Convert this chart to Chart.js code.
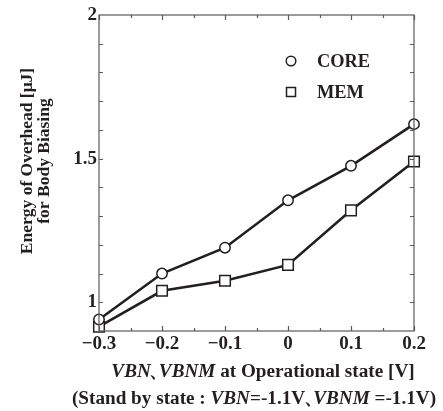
<!DOCTYPE html>
<html>
<head>
<meta charset="utf-8">
<script src="https://cdn.jsdelivr.net/npm/chart.js@4/dist/chart.umd.min.js"></script>
<style>
  html, body { margin: 0; padding: 0; background: #fff; }
  #wrap { width: 443px; height: 411px; }
</style>
</head>
<body>
<div id="wrap"><canvas id="chart" width="443" height="411"></canvas></div>
<script>
const voltages = [-0.3, -0.2, -0.1, 0, 0.1, 0.2]
const coreEnergy = [0.94, 1.10, 1.19, 1.355, 1.475, 1.62]
const memEnergy = [0.915, 1.04, 1.075, 1.13, 1.32, 1.49]

const xTicks = [-0.3, -0.2, -0.1, 0, 0.1, 0.2]
const yTicks = [1, 1.5, 2]

const ink = "#231f20"
const frame = "#5a5a5a"
const serif = "'Liberation Serif', 'Times New Roman', serif"

const toPoints = (ys) => voltages.map((v, i) => ({ x: v, y: ys[i] }))

// the ideographic comma gets a narrow advance so it sits tight like in print
const COMMA = "\u3001"

function partWidth(ctx, p, size) {
  ctx.font = (p[1] ? "italic " : "") + "bold " + size + "px " + serif
  return p[0] === COMMA ? size * 0.42 : ctx.measureText(p[0]).width
}

// writes one line made of plain and italic pieces, centred on cx
function richLine(ctx, parts, cx, y, size) {
  let total = 0
  parts.forEach(p => { total += partWidth(ctx, p, size) })
  let x = cx - total / 2
  parts.forEach(p => {
    const w = partWidth(ctx, p, size)
    ctx.fillText(p[0], p[0] === COMMA ? x - size * 0.08 : x, y)
    x += w
  })
}

const frameAndTicks = {
  id: "frameAndTicks",
  afterDraw(chart) {
    const { ctx, chartArea: a, scales } = chart
    const xs = scales.x, ys = scales.y
    ctx.save()
    ctx.strokeStyle = frame
    ctx.lineWidth = 1.2
    ctx.strokeRect(a.left, a.top, a.right - a.left, a.bottom - a.top)
    ctx.beginPath()
    // x ticks every 0.05, longer on every 0.1
    for (let i = 0; i <= 10; i++) {
      const v = -0.3 + i * 0.05
      const px = Math.round(xs.getPixelForValue(v)) + 0.5
      const len = i % 2 === 0 ? 5 : 3
      ctx.moveTo(px, a.bottom); ctx.lineTo(px, a.bottom - len)
      ctx.moveTo(px, a.top); ctx.lineTo(px, a.top + len)
    }
    // y ticks every 0.1
    for (let i = 1; i < 11; i++) {
      const v = 0.9 + i * 0.1
      const py = Math.round(ys.getPixelForValue(v)) + 0.5
      ctx.moveTo(a.left, py); ctx.lineTo(a.left + 4, py)
      ctx.moveTo(a.right, py); ctx.lineTo(a.right - 4, py)
    }
    ctx.stroke()
    ctx.restore()
  }
}

const titlesAndKey = {
  id: "titlesAndKey",
  afterDraw(chart) {
    const { ctx } = chart
    ctx.save()
    ctx.fillStyle = ink
    ctx.textBaseline = "middle"

    // y axis title, two rotated lines
    ctx.save()
    ctx.translate(27, 161)
    ctx.rotate(-Math.PI / 2)
    ctx.textAlign = "center"
    ctx.font = "bold 17.5px " + serif
    ctx.fillText("Energy of Overhead [\u03bcJ]", 0, 0)
    ctx.fillText("for Body Biasing", 0, 17)
    ctx.restore()

    // x axis titles
    ctx.textAlign = "left"
    richLine(ctx, [["VBN", true], [COMMA, false], ["VBNM", true], [" at Operational state [V]", false]], 263, 372, 19.2)
    richLine(ctx, [["(Stand by state : ", false], ["VBN", true], ["=-1.1V", false], [COMMA, false],
      ["VBNM", true], [" =-1.1V)", false]], 254, 399, 19.2)

    // key
    ctx.strokeStyle = ink
    ctx.lineWidth = 1.5
    ctx.beginPath()
    ctx.arc(291, 61, 4.8, 0, Math.PI * 2)
    ctx.stroke()
    ctx.strokeRect(286.5, 87.5, 9, 9)
    ctx.font = "bold 18.4px " + serif
    ctx.fillText("CORE", 317, 62)
    ctx.fillText("MEM", 317, 93)
    ctx.restore()
  }
}

const lineStyle = {
  showLine: true,
  borderColor: ink,
  borderWidth: 2.6,
  pointBackgroundColor: "#fff",
  pointBorderColor: ink,
  pointBorderWidth: 1.5,
  clip: false
}

new Chart(document.getElementById("chart"), {
  type: "scatter",
  data: {
    datasets: [
      Object.assign({ label: "CORE", data: toPoints(coreEnergy), pointStyle: "circle", pointRadius: 5.2 }, lineStyle),
      Object.assign({ label: "MEM", data: toPoints(memEnergy), pointStyle: "rect", pointRadius: 7.5 }, lineStyle)
    ]
  },
  options: {
    responsive: false,
    animation: false,
    layout: { padding: { left: 0, right: 29, top: 15, bottom: 0 } },
    plugins: { legend: { display: false }, tooltip: { enabled: false } },
    scales: {
      x: {
        type: "linear",
        min: -0.3,
        max: 0.2,
        grid: { display: false, drawTicks: false },
        border: { display: false },
        afterBuildTicks: (s) => { s.ticks = xTicks.map(v => ({ value: v })) },
        afterFit: (s) => { s.height = 80 },
        ticks: {
          padding: 2,
          color: ink,
          font: { family: serif, weight: "bold", size: 19 },
          callback: (v) => v < 0 ? "\u2212" + Math.abs(v).toFixed(1) : (v === 0 ? "0" : v.toFixed(1))
        }
      },
      y: {
        min: 0.9,
        max: 2,
        grid: { display: false, drawTicks: false },
        border: { display: false },
        afterBuildTicks: (s) => { s.ticks = yTicks.map(v => ({ value: v })) },
        afterFit: (s) => { s.width = 99 },
        ticks: {
          padding: 2,
          color: ink,
          font: { family: serif, weight: "bold", size: 19 },
          callback: (v) => String(v)
        }
      }
    }
  },
  plugins: [frameAndTicks, titlesAndKey]
})
</script>
</body>
</html>
